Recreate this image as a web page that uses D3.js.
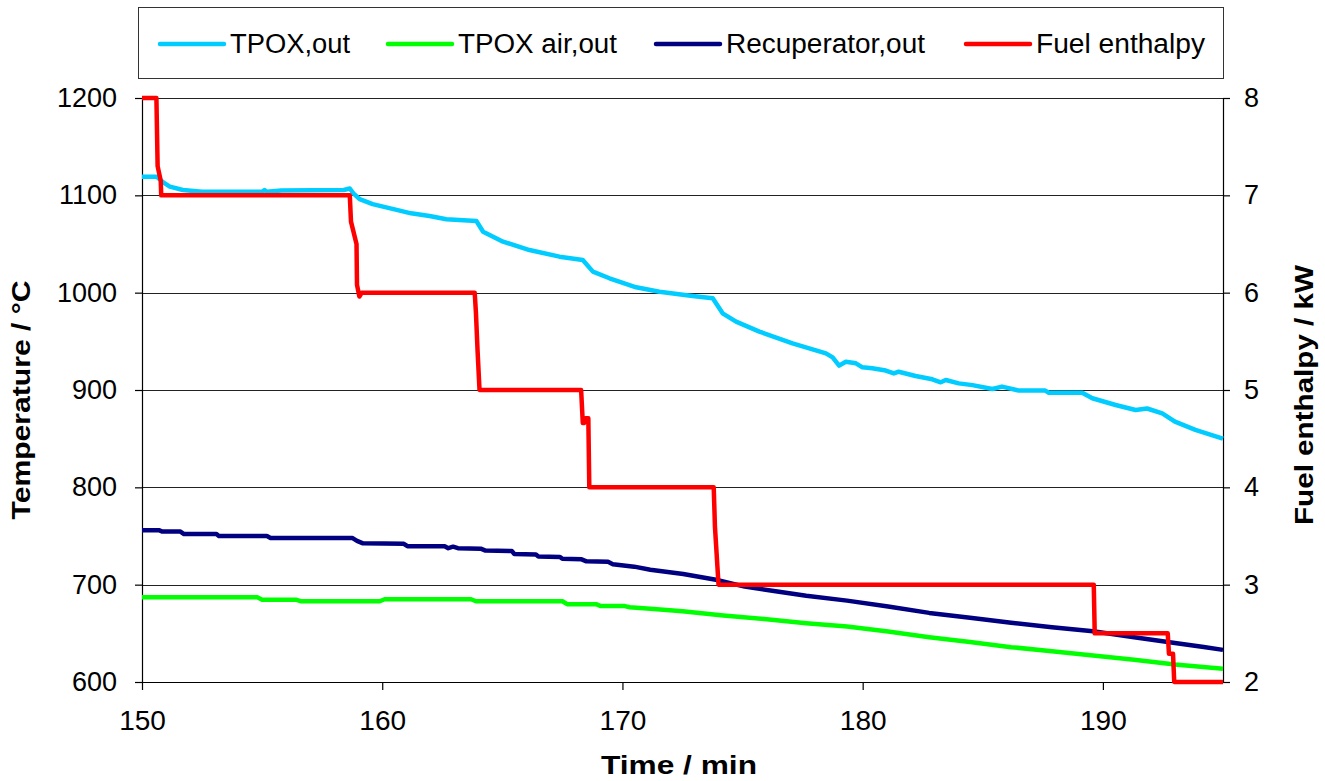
<!DOCTYPE html>
<html>
<head>
<meta charset="utf-8">
<script src="https://cdn.jsdelivr.net/npm/d3@7"></script>
<style>
  body { margin: 0; background: #fff; }
  text { font-family: "Liberation Sans", Arial, sans-serif; fill: #000; }
</style>
</head>
<body>
<div id="chart"></div>
<script>
// time in min, temperature in °C, fuel enthalpy in kW
const tpoxOut = [[150,1119],[150.62,1119],[150.9,1113],[151.16,1109],[151.7,1105.5],[152.5,1103.7],[155.0,1103.7],[155.1,1105.5],[155.2,1103.7],[155.8,1105],[158.4,1105.5],[158.65,1107],[158.8,1102],[159.06,1096],[159.6,1091],[160.6,1085],[161.2,1081.5],[161.97,1078.8],[162.67,1075.5],[163.92,1073.6],[164.2,1062.6],[165.03,1052.4],[166.13,1043.8],[167.38,1037],[168.35,1033.6],[168.77,1021.6],[169.46,1014.8],[170.57,1005.5],[171.54,1001],[172.92,996.6],[173.76,994.2],[174.17,978.8],[174.73,970.2],[175.7,960],[177.08,948],[178.47,937.7],[178.75,933.5],[179.02,925],[179.3,929],[179.72,927.4],[179.99,923.3],[180.4,922.3],[180.96,920],[181.3,917],[181.5,918.8],[182.2,914.4],[182.9,911],[183.25,907.9],[183.46,910.3],[184.0,906.8],[184.57,905],[185.4,901],[185.8,903.5],[186.5,899.4],[187.6,899.4],[187.75,897.2],[189.14,897.2],[189.56,891.5],[190.53,884.6],[191.36,879.4],[191.84,881],[192.47,876],[193.0,867.5],[193.85,859],[194.96,850.4],[195,850]];

const tpoxAirOut = [[150,687],[154.8,687],[155.0,684.6],[156.4,684.6],[156.6,683],[159.9,683],[160.1,685],[163.7,685],[163.9,683],[167.5,683],[167.7,680],[168.9,680],[169.1,678],[170.1,678],[170.3,676.8],[171.3,675],[172.5,672.7],[174.2,668.3],[175.9,664.8],[177.65,660.4],[179.35,657],[181.06,651.9],[182.77,646],[184.47,641],[186.18,635.8],[187.88,631.7],[189.59,627.3],[191.3,622.9],[193.0,618],[195,613.7]];

const recuperatorOut = [[150,756],[150.7,756],[150.85,754.5],[151.6,754.5],[151.75,752],[153.1,752],[153.2,750],[155.2,750],[155.35,748],[158.75,748],[158.95,745],[159.2,742.5],[160.9,742],[161.05,739.5],[162.6,739.5],[162.75,737.5],[162.95,739],[163.15,737.5],[164.1,737],[164.3,735],[165.4,734.5],[165.5,731.5],[166.4,731],[166.5,729],[167.4,728.5],[167.5,726.5],[168.3,726],[168.5,724],[169.4,723.5],[169.6,721],[170.49,718.5],[171.16,715.4],[172.53,711],[173.89,705],[175.09,698],[176.45,693],[177.65,688.7],[179.35,683.6],[181.06,677.5],[182.77,671],[184.47,666],[186.18,660.8],[187.88,656.3],[189.59,652.2],[191.3,646],[193.0,640],[194.2,636],[195,633]];

const fuelEnthalpy = [[150,8],[150.6,8],[150.65,7.3],[150.78,7.15],[150.8,7.0],[158.65,7.0],[158.7,6.73],[158.93,6.5],[158.95,6.08],[159.05,5.96],[159.15,6.0],[163.85,6.0],[163.9,5.8],[163.97,5.4],[164.05,5.0],[168.28,5.0],[168.35,4.66],[168.4,4.66],[168.45,4.71],[168.58,4.71],[168.62,4.0],[173.8,4.0],[173.85,3.6],[174.0,3.0],[189.62,3.0],[189.66,2.5],[192.7,2.5],[192.75,2.29],[192.92,2.29],[192.97,2.0],[195,2.0]];

const xTicks = [150, 160, 170, 180, 190];
const yTicks = [600, 700, 800, 900, 1000, 1100, 1200];
const y2Ticks = [2, 3, 4, 5, 6, 7, 8];

const series = [
  { name: 'TPOX,out', data: tpoxOut, color: '#00ccff', axis: 'left' },
  { name: 'TPOX air,out', data: tpoxAirOut, color: '#00ff00', axis: 'left' },
  { name: 'Recuperator,out', data: recuperatorOut, color: '#000080', axis: 'left' },
  { name: 'Fuel enthalpy', data: fuelEnthalpy, color: '#ff0000', axis: 'right' }
];

const W = 1325, H = 781;
const margin = { top: 98, right: 102, bottom: 99, left: 142 };
const width = W - margin.left - margin.right,
      height = H - margin.top - margin.bottom;

const svg = d3.select('#chart').append('svg')
  .attr('width', W)
  .attr('height', H);

const g = svg.append('g')
  .attr('transform', 'translate(' + margin.left + ',' + margin.top + ')');

const x = d3.scaleLinear().domain([150, 195]).range([0, width]);
const y = d3.scaleLinear().domain([600, 1200]).range([height, 0]);
const y2 = d3.scaleLinear().domain([2, 8]).range([height, 0]);

// gridlines
g.selectAll('.grid')
  .data(yTicks)
  .enter().append('line')
  .attr('class', 'grid')
  .attr('x1', 0).attr('x2', width)
  .attr('y1', d => Math.round(y(d)) + 0.5)
  .attr('y2', d => Math.round(y(d)) + 0.5)
  .attr('stroke', '#222')
  .attr('stroke-width', 1);

// axes
const xAxis = g.append('g')
  .attr('transform', 'translate(0,' + height + ')')
  .call(d3.axisBottom(x).tickValues(xTicks).tickFormat(d3.format('d'))
    .tickSize(8).tickSizeOuter(0).tickPadding(20));

const yAxis = g.append('g')
  .call(d3.axisLeft(y).tickValues(yTicks).tickFormat(d3.format('d'))
    .tickSize(7).tickSizeOuter(0).tickPadding(18));

const y2Axis = g.append('g')
  .attr('transform', 'translate(' + width + ',0)')
  .call(d3.axisRight(y2).tickValues(y2Ticks).tickFormat(d3.format('d'))
    .tickSize(7).tickSizeOuter(0).tickPadding(14));

[xAxis, yAxis, y2Axis].forEach(a => {
  a.selectAll('path, line').attr('stroke', '#000').attr('stroke-width', 1.2);
  a.selectAll('text').attr('font-size', 27).attr('font-family', '"Liberation Sans", Arial, sans-serif');
});
xAxis.selectAll('text').attr('font-size', 28);

// series
series.forEach(s => {
  const ys = s.axis === 'left' ? y : y2;
  const line = d3.line()
    .x(d => x(d[0]))
    .y(d => ys(d[1]));
  g.append('path')
    .datum(s.data)
    .attr('fill', 'none')
    .attr('stroke', s.color)
    .attr('stroke-width', 4.5)
    .attr('stroke-linejoin', 'round')
    .attr('d', line);
});

// axis titles
svg.append('text')
  .attr('transform', 'translate(30,400) rotate(-90)')
  .attr('text-anchor', 'middle')
  .attr('font-size', 26)
  .attr('font-weight', 'bold')
  .attr('textLength', 239)
  .attr('lengthAdjust', 'spacingAndGlyphs')
  .text('Temperature / °C');

svg.append('text')
  .attr('transform', 'translate(1313,395) rotate(-90)')
  .attr('text-anchor', 'middle')
  .attr('font-size', 26)
  .attr('font-weight', 'bold')
  .attr('textLength', 260)
  .attr('lengthAdjust', 'spacingAndGlyphs')
  .text('Fuel enthalpy / kW');

svg.append('text')
  .attr('x', 679)
  .attr('y', 774)
  .attr('text-anchor', 'middle')
  .attr('font-size', 26)
  .attr('font-weight', 'bold')
  .attr('textLength', 156)
  .attr('lengthAdjust', 'spacingAndGlyphs')
  .text('Time  / min');

// legend
const legend = svg.append('g');
legend.append('rect')
  .attr('x', 138.5).attr('y', 7.5)
  .attr('width', 1085).attr('height', 71)
  .attr('fill', '#fff')
  .attr('stroke', '#333')
  .attr('stroke-width', 1);

const legendX = [160, 388, 656, 966];
const legendTextW = [120, 159, 199, 169];
series.forEach((s, i) => {
  legend.append('line')
    .attr('x1', legendX[i]).attr('x2', legendX[i] + 64)
    .attr('y1', 44).attr('y2', 44)
    .attr('stroke', s.color)
    .attr('stroke-width', 4.5)
    .attr('stroke-linecap', 'round');
  legend.append('text')
    .attr('x', legendX[i] + 70)
    .attr('y', 44)
    .attr('dy', '0.35em')
    .attr('font-size', 27)
    .attr('textLength', legendTextW[i])
    .attr('lengthAdjust', 'spacingAndGlyphs')
    .text(s.name);
});
</script>
</body>
</html>
